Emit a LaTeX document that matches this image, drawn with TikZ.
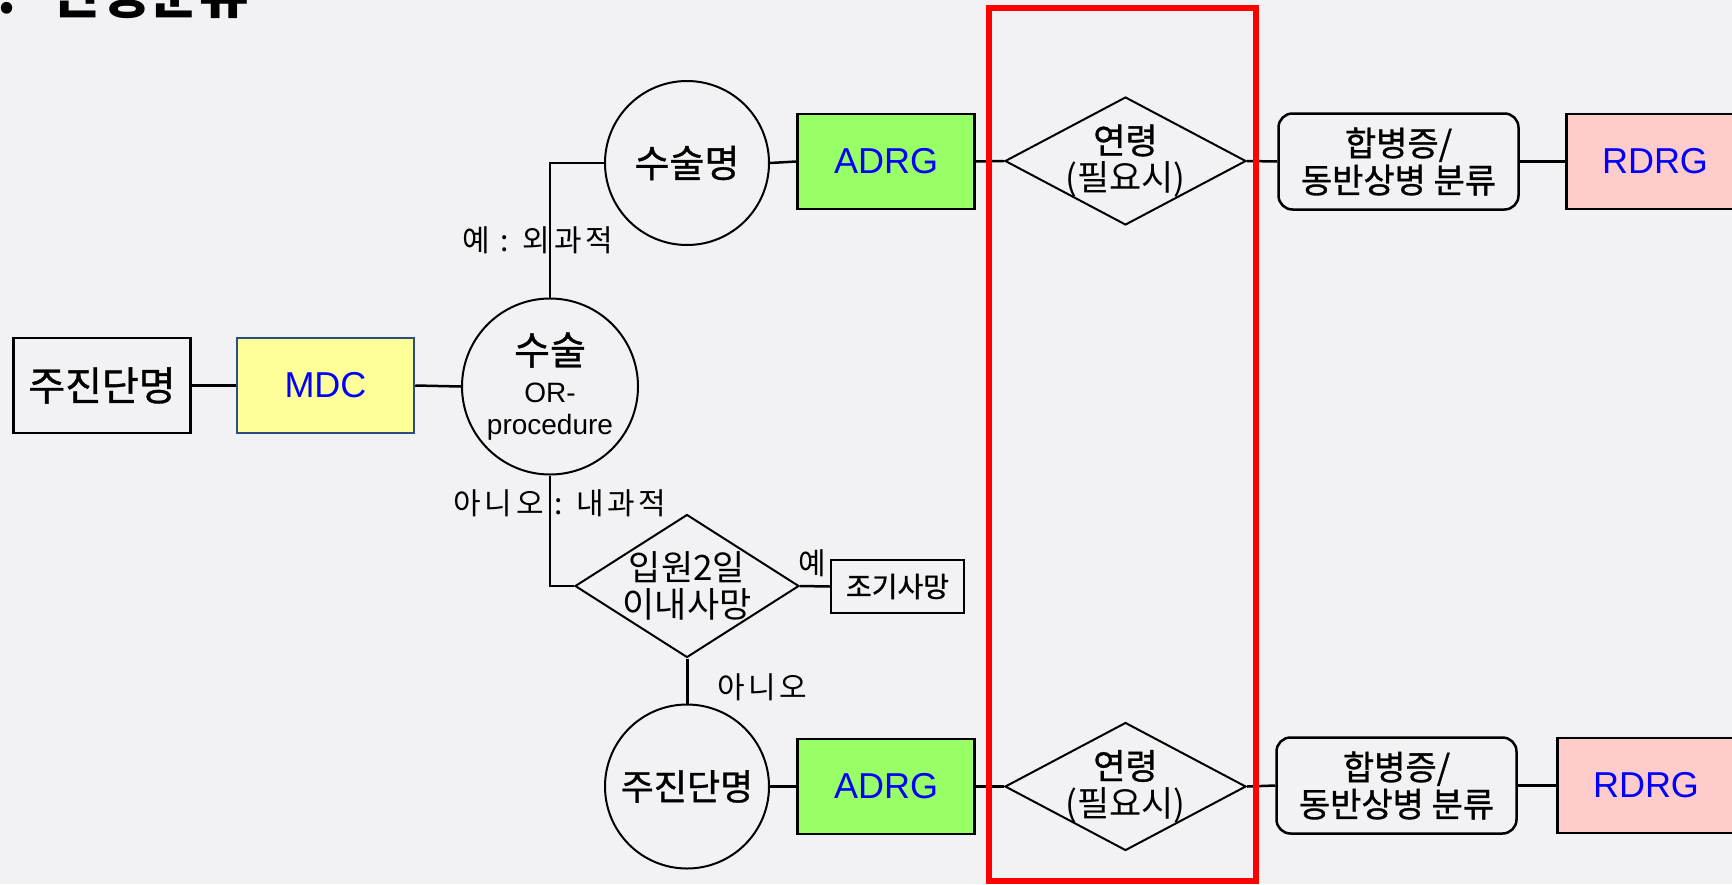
\documentclass[tikz,border=0pt]{standalone}
\usepackage{fontspec}
\setmainfont{Liberation Sans}
\newfontfamily\kr{Noto Sans CJK KR}
\newfontfamily\krm[FakeBold=1]{Noto Sans CJK KR}
\usetikzlibrary{shapes.geometric}
\definecolor{bg}{RGB}{242,242,244}
\definecolor{adrgc}{RGB}{153,255,102}
\definecolor{mdcc}{RGB}{255,255,153}
\definecolor{rdrgc}{RGB}{255,204,204}
\definecolor{mdcborder}{RGB}{44,77,130}
\definecolor{dblue}{RGB}{0,0,255}
\newcommand{\kfs}[2]{\fontsize{#1}{#2}\selectfont}
\begin{document}
\begin{tikzpicture}[x=1pt,y=-1pt,
  conn/.style={line width=2.5pt},
  sqbox/.style={draw, line width=2.5pt, minimum width=177pt, minimum height=95pt, inner sep=0pt},
  codebox/.style={sqbox, text=dblue, font=\kfs{36}{40}},
  roundbox/.style={draw, line width=2.5pt, rounded corners=14pt, minimum width=240pt, minimum height=96pt, inner sep=0pt, align=center, font=\krm\kfs{34}{37}},
  circ/.style={draw, circle, line width=2pt, minimum size=164pt, inner sep=0pt},
  dia/.style={draw, diamond, line width=2pt, aspect=1.88, minimum width=241pt, minimum height=128pt, inner sep=-8pt, align=center, font=\kr\kfs{35}{37}},
  lbl/.style={font=\kr\kfs{30}{34}\addfontfeature{LetterSpace=12}, inner sep=0pt}
]
\useasboundingbox (0,0) rectangle (1732,884);
\clip (0,0) rectangle (1732,884);
\fill[bg] (0,0) rectangle (1732,884);

% title (cut off at the top)
\node[anchor=base east, font=\kr\bfseries\kfs{54}{56}, inner sep=0pt] (num) at (17,13) {3.};
\node[anchor=base west, font=\kr\bfseries\kfs{54}{56}, inner sep=0pt] (title) at (50,13) {진행분류};

% left column
\node[sqbox, font=\krm\kfs{40}{44}] (pdx) at (102,385.5) {주진단명};
\node[codebox, fill=mdcc, draw=mdcborder] (mdc) at (325.5,385.5) {MDC};
\node[circ, minimum size=176pt, align=center, font=\kfs{28}{32}] (or) at (550,386.5)
  {{\krm\kfs{39}{40}수술}\\[6pt]OR-\\procedure};

% upper row
\node[circ, font=\krm\kfs{38}{40}] (sname) at (687,163) {수술명};
\node[codebox, fill=adrgc] (adrg1) at (886,161.5) {ADRG};
\node[dia] (age1) at (1125.5,161) {{\krm 연령}\\(필요시)};
\node[roundbox] (cc1) at (1398.5,161.5) {합병증/\\동반상병 분류};
\node[codebox, fill=rdrgc] (rdrg1) at (1655,161.5) {RDRG};

% middle
\node[dia, aspect=1.57, minimum width=224pt, minimum height=143pt] (death) at (687,586)
  {입원2일\\이내사망};
\node[draw, line width=2.5pt, minimum width=133pt, minimum height=53pt, inner sep=0pt, font=\krm\kfs{28}{30}] (early) at (897.5,586.5) {조기사망};

% lower row
\node[circ, font=\krm\kfs{36}{40}] (c2) at (687,786.5) {주진단명};
\node[codebox, fill=adrgc] (adrg2) at (886,786.5) {ADRG};
\node[dia] (age2) at (1125.5,786.5) {{\krm 연령}\\(필요시)};
\node[roundbox] (cc2) at (1396.5,785.5) {합병증/\\동반상병 분류};
\node[codebox, fill=rdrgc] (rdrg2) at (1646,785.5) {RDRG};

% connectors
\draw[conn] (pdx.east) -- (mdc.west);
\draw[conn] (mdc.east) -- (or.west);
\draw[conn] (or.north) |- (sname.west);
\draw[conn] (sname.east) -- (adrg1.west);
\draw[conn] (adrg1.east) -- (age1.west);
\draw[conn] (age1.east) -- (cc1.west);
\draw[conn] (cc1.east) -- (rdrg1.west);
\draw[conn] (or.south) |- (death.west);
\draw[conn] (death.east) -- (early.west);
\draw[conn, line width=3pt] (death.south) -- (c2.north);
\draw[conn] (c2.east) -- (adrg2.west);
\draw[conn] (adrg2.east) -- (age2.west);
\draw[conn] (age2.east) -- (cc2.west);
\draw[conn] (cc2.east) -- (rdrg2.west);

% branch labels
\node[lbl] (lyes) at (538,240) {예 : 외과적};
\node[lbl] (lno) at (560,503) {아니오 : 내과적};
\node[lbl] (lyes2) at (812,563) {예};
\node[lbl] (lno2) at (762,687) {아니오};

% red frame
\draw[red, line width=6pt] (989,8) rectangle (1255.5,881);
\end{tikzpicture}
\end{document}
